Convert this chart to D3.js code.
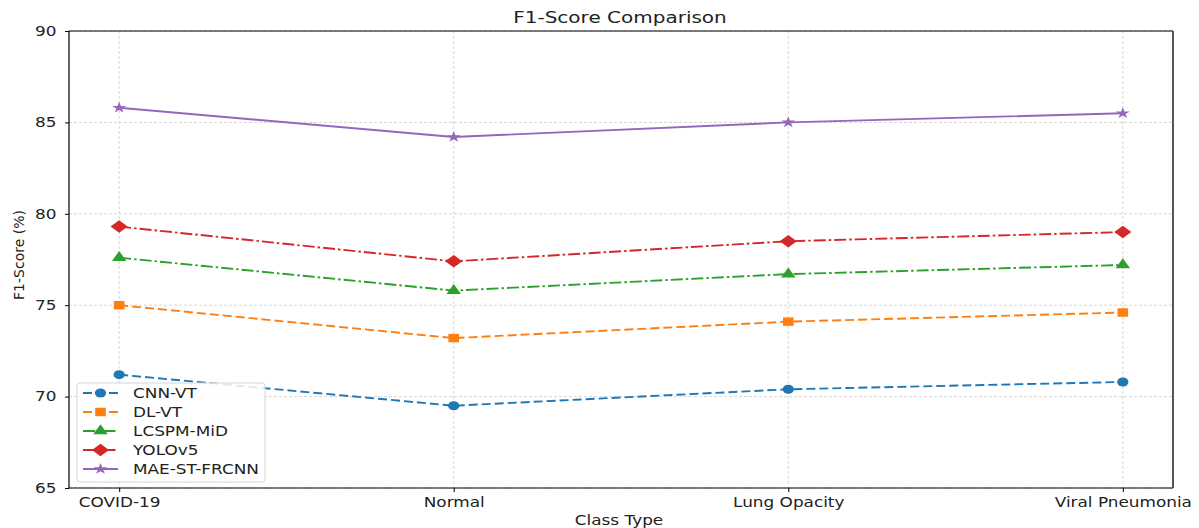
<!DOCTYPE html>
<html>
<head>
<meta charset="utf-8">
<script src="https://cdn.jsdelivr.net/npm/d3@7"></script>
<style>
  html, body { margin: 0; padding: 0; background: #fff; }
  svg { display: block; font-family: "DejaVu Sans", sans-serif; }
</style>
</head>
<body>
<svg id="chart" width="1199" height="528"></svg>
<script>
// Class types on the x axis
const categories = ["COVID-19", "Normal", "Lung Opacity", "Viral Pneumonia"];

// F1-score (%) per model, one value per class type
const cnnVt      = [71.2, 69.5, 70.4, 70.8];
const dlVt       = [75.0, 73.2, 74.1, 74.6];
const lcspmMid   = [77.6, 75.8, 76.7, 77.2];
const yolov5     = [79.3, 77.4, 78.5, 79.0];
const maeStFrcnn = [85.8, 84.2, 85.0, 85.5];

const yTicks = [65, 70, 75, 80, 85, 90];

const series = [
  { name: "CNN-VT",       values: cnnVt,      color: "#1f77b4", dash: "9,4",        marker: "circle" },
  { name: "DL-VT",        values: dlVt,       color: "#ff7f0e", dash: "9,4",        marker: "square" },
  { name: "LCSPM-MiD",    values: lcspmMid,   color: "#2ca02c", dash: "12,3,2.5,3", marker: "triangle" },
  { name: "YOLOv5",       values: yolov5,     color: "#d62728", dash: "12,3,2.5,3", marker: "diamond" },
  { name: "MAE-ST-FRCNN", values: maeStFrcnn, color: "#9467bd", dash: null,         marker: "star" }
];

// horizontal stretch applied to text and markers
const SX = 1.25;

const svg = d3.select("#chart");
const plot = { left: 69, right: 1173, top: 31, bottom: 488 };

const x = d3.scalePoint()
  .domain(categories)
  .range([plot.left, plot.right])
  .padding(0.15);

const y = d3.scaleLinear()
  .domain([65, 90])
  .range([plot.bottom, plot.top]);

// Grid lines
const grid = svg.append("g");
grid.selectAll("line.gy").data(yTicks).join("line")
  .attr("x1", plot.left).attr("x2", plot.right)
  .attr("y1", d => y(d)).attr("y2", d => y(d))
  .attr("stroke", "#cbcbcb").attr("stroke-width", 0.8).attr("stroke-dasharray", "3,2");
grid.selectAll("line.gx").data(categories).join("line")
  .attr("x1", d => x(d)).attr("x2", d => x(d))
  .attr("y1", plot.top).attr("y2", plot.bottom)
  .attr("stroke", "#cbcbcb").attr("stroke-width", 0.8).attr("stroke-dasharray", "3,2");

// Axes
const xAxis = svg.append("g")
  .attr("transform", `translate(0,${plot.bottom})`)
  .call(d3.axisBottom(x).tickSize(4).tickPadding(4));
const yAxis = svg.append("g")
  .attr("transform", `translate(${plot.left},0)`)
  .call(d3.axisLeft(y).tickValues(yTicks).tickSize(4).tickPadding(6));
[xAxis, yAxis].forEach(a => {
  a.select(".domain").remove();
  a.selectAll("text").attr("font-size", 13.5).attr("fill", "#222")
    .attr("font-family", "DejaVu Sans, sans-serif")
    .attr("transform", `scale(${SX},1)`);
  a.selectAll("line").attr("stroke", "#000");
});
xAxis.selectAll("text").attr("dy", "0.8em");

// Frame
svg.append("line").attr("x1", plot.left).attr("x2", plot.right).attr("y1", plot.top).attr("y2", plot.top)
  .attr("stroke", "#000").attr("stroke-width", 1.2);
svg.append("line").attr("x1", plot.left).attr("x2", plot.right).attr("y1", plot.bottom).attr("y2", plot.bottom)
  .attr("stroke", "#000").attr("stroke-width", 1.2);
svg.append("line").attr("x1", plot.left).attr("x2", plot.left).attr("y1", plot.top).attr("y2", plot.bottom)
  .attr("stroke", "#000").attr("stroke-width", 1.2);
svg.append("line").attr("x1", plot.right).attr("x2", plot.right).attr("y1", plot.top).attr("y2", plot.bottom)
  .attr("stroke", "#555").attr("stroke-width", 2);

// Marker shapes (drawn then stretched horizontally by SX)
const diamondType = {
  draw(ctx, size) {
    const r = Math.sqrt(size / 2);
    ctx.moveTo(0, -r); ctx.lineTo(r * 1.1, 0); ctx.lineTo(0, r); ctx.lineTo(-r * 1.1, 0); ctx.closePath();
  }
};
const symbols = {
  circle:   d3.symbol().type(d3.symbolCircle).size(64),
  square:   d3.symbol().type(d3.symbolSquare).size(72),
  triangle: d3.symbol().type(d3.symbolTriangle).size(58),
  diamond:  d3.symbol().type(diamondType).size(78),
  star:     d3.symbol().type(d3.symbolStar).size(40)
};

const line = d3.line().x((d, i) => x(categories[i])).y(d => y(d));

series.forEach(s => {
  const g = svg.append("g");
  g.append("path")
    .datum(s.values)
    .attr("d", line)
    .attr("fill", "none")
    .attr("stroke", s.color)
    .attr("stroke-width", 1.9)
    .attr("stroke-dasharray", s.dash);
  g.selectAll("path.m").data(s.values).join("path")
    .attr("transform", (d, i) => `translate(${x(categories[i])},${y(d)}) scale(${SX},1)`)
    .attr("d", symbols[s.marker]())
    .attr("fill", s.color);
});

// Title and axis labels
svg.append("text").attr("transform", `translate(620,23) scale(${SX},1)`).attr("text-anchor", "middle")
  .attr("font-size", 16).attr("fill", "#222").text("F1-Score Comparison");
svg.append("text").attr("transform", `translate(619,525) scale(${SX},1)`).attr("text-anchor", "middle")
  .attr("font-size", 13.5).attr("fill", "#222").text("Class Type");
svg.append("text").attr("transform", "translate(24,255) rotate(-90)").attr("text-anchor", "middle")
  .attr("font-size", 14).attr("fill", "#222").text("F1-Score (%)");

// Legend
const legend = svg.append("g").attr("transform", "translate(77,383)");
legend.append("rect").attr("width", 188).attr("height", 99).attr("rx", 3)
  .attr("fill", "#fff").attr("fill-opacity", 0.85).attr("stroke", "#d5d5d5");
series.forEach((s, i) => {
  const yy = 10 + i * 19;
  const row = legend.append("g").attr("transform", `translate(0,${yy})`);
  row.append("line").attr("x1", 6).attr("x2", 41).attr("y1", 0).attr("y2", 0)
    .attr("stroke", s.color).attr("stroke-width", 1.9).attr("stroke-dasharray", s.dash);
  row.append("path").attr("transform", `translate(23.5,0) scale(${SX},1)`)
    .attr("d", symbols[s.marker]()).attr("fill", s.color);
  row.append("text").attr("transform", `translate(56,5) scale(${SX},1)`)
    .attr("font-size", 13.5).attr("fill", "#222").text(s.name);
});
</script>
</body>
</html>
